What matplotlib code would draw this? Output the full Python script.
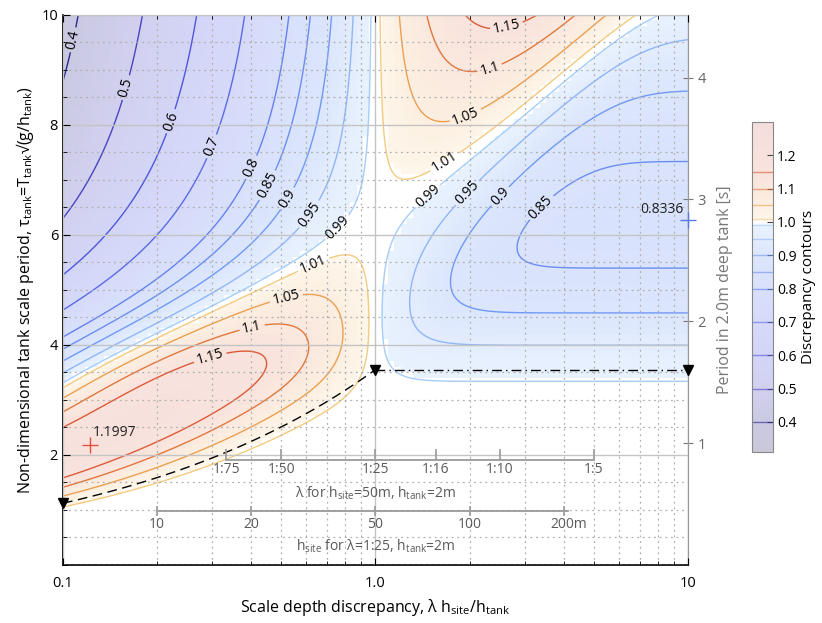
import numpy as np
import matplotlib
matplotlib.use("Agg")
import matplotlib.pyplot as plt
from matplotlib.colors import LinearSegmentedColormap, Normalize, ListedColormap
from matplotlib.cm import ScalarMappable
from matplotlib.ticker import MultipleLocator, FormatStrFormatter

plt.rcParams['font.family'] = ['Open Sans', 'DejaVu Sans']
plt.rcParams['mathtext.default'] = 'regular'

# ---- data ----
h_tank = 2.0          # m
g = 9.81
levels = [0.4, 0.5, 0.6, 0.7, 0.8, 0.85, 0.9, 0.95, 0.99, 1.01, 1.05, 1.1, 1.15]
cbar_ticks = [0.4, 0.5, 0.6, 0.7, 0.8, 0.9, 1.0, 1.1, 1.2]
period_ticks = [1, 2, 3, 4]                 # s in 2 m tank

# colour anchors for the discrepancy scale
anchor_vals = [0.31, 0.4, 0.5, 0.6, 0.7, 0.8, 0.9, 0.99, 1.0, 1.01, 1.05, 1.1, 1.15, 1.3]
anchor_cols = ['#282366', '#2d288c', '#4a44c0', '#5058dc', '#5a6ae6', '#6482ef',
               '#7099f5', '#a5cdfa', '#ffffff', '#f5cd82', '#eba050', '#e1783c',
               '#dc5a37', '#be3c32']

# extremes
ext_x = [0.122, 10.0]
ext_tau = [2.19, 6.28]
ext_val = [1.1997, 0.8336]
ext_col = ['#e0503c', '#5a78e6']

# scale bars
lam_denoms = [75, 50, 25, 16, 10, 5]        # lambda = 1:n, h_site=50m
site_depths = [10, 20, 50, 100, 200]        # m, lambda = 1:25
deep_x = [0.1, 1.0, 10.0]

# ---- dispersion / group velocity ----
def solve_kd(y):
    X = y / np.sqrt(np.tanh(y))
    for _ in range(40):
        t = np.tanh(X)
        X = X - (X * t - y) / (t + X * (1 - t * t))
    return X

def group_vel(omega, depth):
    X = solve_kd(omega ** 2 * depth)
    k = X / depth
    t2 = np.minimum(2 * X, 60.0)
    frac = np.where(2 * X < 60, t2 / np.sinh(t2), 0.0)
    return 0.5 * omega / k * (1 + frac)

def discrepancy(r, tau):
    om = 2 * np.pi / tau
    return group_vel(om, r) / group_vel(om, 1.0)

xs = np.logspace(-1, 1, 500)
ts = np.linspace(0.03, 10, 500)
XX, TT = np.meshgrid(xs, ts)
D = discrepancy(XX, TT)

xc = np.logspace(-1, 1, 100)
tc = np.linspace(0.05, 9.95, 100)
XC, TC = np.meshgrid(xc, tc)
DC = discrepancy(XC, TC)
DC = np.ma.masked_where(np.abs(DC - 1) < 0.012, DC)

norm = Normalize(0.31, 1.3)
line_cmap = LinearSegmentedColormap.from_list(
    'disc', list(zip([float(norm(v)) for v in anchor_vals], anchor_cols)))
pos = np.linspace(0, 1, 256)
base = line_cmap(pos)
alpha = np.where(pos < norm(1.0), 0.25, 0.17)[:, None]
fill_rgb = 1 - alpha * (1 - base[:, :3])
fill_cmap = ListedColormap(fill_rgb)
fill_cmap.set_bad('white')

# ---- figure ----
fig = plt.figure(figsize=(8.22, 6.23), dpi=100)
ax = fig.add_axes([0.0766, 0.0931, 0.7603, 0.883])
ax.set_xscale('log')
ax.set_xlim(0.1, 10)
ax.set_ylim(0, 10)

ax.pcolormesh(XC, TC, DC, cmap=fill_cmap, norm=norm, shading='nearest', zorder=0)

ax.set_axisbelow(False)
ax.grid(True, which='major', color='#c4c4c4', lw=1.0, zorder=1)
ax.grid(True, which='minor', color='#b0b0b0', lw=0.9, ls=(0, (1.5, 3)), zorder=1)

cs = ax.contour(XX, TT, D, levels=levels, cmap=line_cmap, norm=norm,
                linewidths=1.0, zorder=2)

label_pos = [(0.107, 9.55), (0.161, 8.67), (0.226, 8.05), (0.302, 7.6),
             (0.397, 7.24), (0.452, 6.9), (0.53, 6.64), (0.62, 6.36),
             (0.75, 6.15), (0.635, 5.45), (0.517, 4.87), (0.40, 4.4),
             (0.295, 3.8), (2.62, 9.82), (2.31, 9.07), (1.92, 8.24),
             (1.63, 7.42), (1.46, 6.73), (1.98, 6.75), (2.5, 6.71), (3.39, 6.5)]
ax.clabel(cs, fmt='%g', manual=label_pos, fontsize=10, colors='k',
          inline=True, inline_spacing=3)

# deep-water limit of the shallower depth (kh = pi)
xr = np.logspace(-1, 0, 60)
c0 = np.pi * np.tanh(np.pi)
ax.plot(xr, 2 * np.pi * np.sqrt(xr / c0), color='k', lw=1.0, ls=(0, (7, 4)), zorder=3)
ax.plot([1.0, 10.0], [2 * np.pi / np.sqrt(c0)] * 2, color='k', lw=1.0,
        ls=(0, (7, 3, 1, 3)), zorder=3)
dx = np.array(deep_x)
ax.plot(dx, 2 * np.pi * np.sqrt(np.minimum(dx, 1) / c0), 'v', color='k', ms=7,
        clip_on=False, zorder=5)

for x, t, v, c, off, ha in zip(ext_x, ext_tau, ext_val, ext_col,
                               [(2, 3), (-3, 2)], ['left', 'right']):
    ax.plot(x, t, '+', color=c, ms=11, mew=1.0, clip_on=False, zorder=5)
    ax.annotate(f'{v:.4f}', (x, t), xytext=off, textcoords='offset points',
                ha=ha, va='bottom', fontsize=10, color='#222222')

# scale bars
gray_line = '#9a9a9a'
gray_txt = '#5a5a5a'
lam_x = [50.0 / (n * h_tank) for n in lam_denoms]
y1 = 1.9
ax.plot([lam_x[0], lam_x[-1]], [y1, y1], color=gray_line, lw=1.3, zorder=4)
ax.plot(lam_x, [y1] * len(lam_x), ls='none', marker=2, ms=8, mew=1.2,
        color=gray_line, zorder=4)
for x, n in zip(lam_x, lam_denoms):
    ax.text(x, y1 - 0.17, f'1:{n}', ha='center', va='center', fontsize=10, color=gray_txt)
ax.text(1.0, y1 - 0.6, r'λ for h$_{site}$=50m, h$_{tank}$=2m', ha='center',
        va='center', fontsize=10, color=gray_txt)

site_x = [d / (25 * h_tank) for d in site_depths]
y2 = 0.98
ax.plot([site_x[0], site_x[-1] * 1.03], [y2, y2], color=gray_line, lw=1.3, zorder=4)
ax.plot(site_x, [y2] * len(site_x), ls='none', marker='|', ms=7, mew=1.2,
        color=gray_line, zorder=4)
for i, (x, d) in enumerate(zip(site_x, site_depths)):
    last = i == len(site_depths) - 1
    ax.text(x * (1.04 if last else 1.0), y2 - 0.24, f'{d}m' if last else f'{d}',
            ha='center', va='center', fontsize=10, color=gray_txt)
ax.text(1.0, y2 - 0.64, r'h$_{site}$ for λ=1:25, h$_{tank}$=2m', ha='center',
        va='center', fontsize=10, color=gray_txt)

# axes styling
ax.set_xticks([0.1, 1.0, 10.0])
ax.set_xticklabels(['0.1', '1.0', '10'])
ax.set_yticks([2, 4, 6, 8, 10])
ax.yaxis.set_minor_locator(MultipleLocator(0.5))
ax.tick_params(which='both', direction='in', top=True, labelsize=10.5)
ax.tick_params(which='major', length=5)
ax.tick_params(which='minor', length=3)
ax.tick_params(axis='x', which='major', pad=8)
for s in ['left', 'bottom']:
    ax.spines[s].set_linewidth(1.2)
for s in ['top', 'right']:
    ax.spines[s].set_color('#999999')

ax.set_xlabel(r'Scale depth discrepancy, λ h$_{site}$/h$_{tank}$', fontsize=11.5)
ax.set_ylabel(r'Non-dimensional tank scale period, τ$_{tank}$=T$_{tank}$√(g/h$_{tank}$)',
              fontsize=11.5)

fac = np.sqrt(h_tank / g)
sec = ax.secondary_yaxis('right', functions=(lambda t: t * fac, lambda T: T / fac))
sec.set_yticks(period_ticks)
sec.tick_params(direction='inout', length=7, colors='#777777', labelcolor='#666666',
                labelsize=10.5)
sec.spines['right'].set_color('#999999')
sec.set_ylabel('Period in 2.0m deep tank [s]', color='#777777', fontsize=11.5, labelpad=8)

# colorbar
cax = fig.add_axes([0.915, 0.2745, 0.0255, 0.53])
cb = fig.colorbar(ScalarMappable(norm=norm, cmap=fill_cmap), cax=cax)
cb.set_ticks(cbar_ticks)
cb.ax.yaxis.set_major_formatter(FormatStrFormatter('%.1f'))
cb.add_lines(cs)
for lc in cb.lines:
    lc.set_alpha(0.6)
cb.outline.set_edgecolor('#888888')
cb.ax.tick_params(labelsize=10, length=4, pad=3, direction='in', color='#444444')
cb.set_label('Discrepancy contours', fontsize=11, labelpad=3)

fig.savefig('out.png', dpi=100)
